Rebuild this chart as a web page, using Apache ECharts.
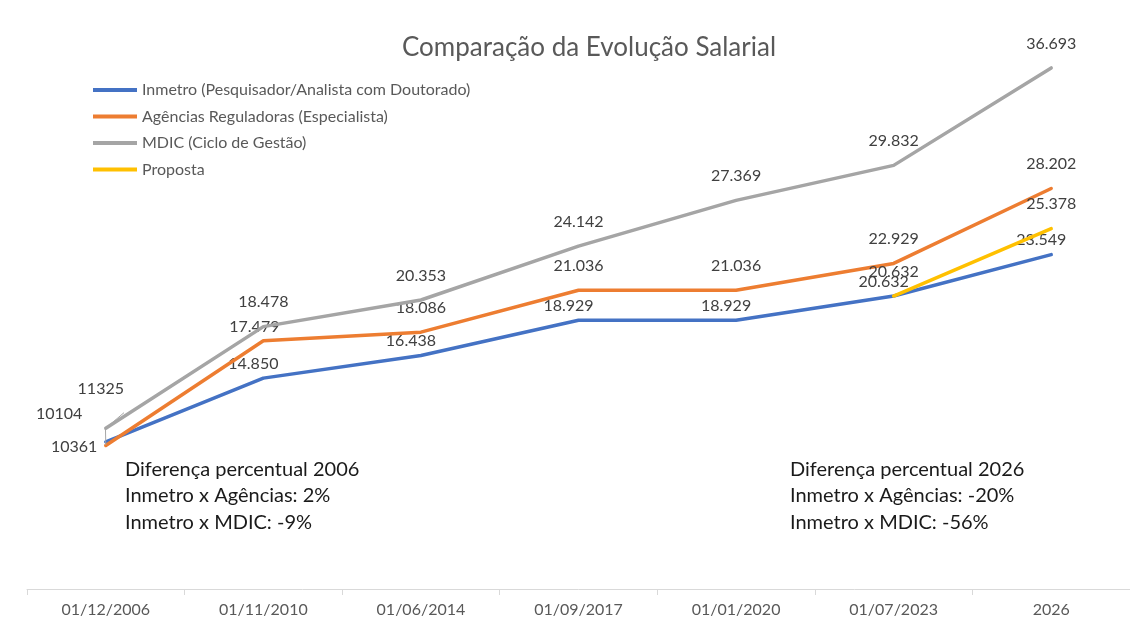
<!DOCTYPE html>
<html>
<head>
<meta charset="utf-8">
<title>Comparação da Evolução Salarial</title>
<script src="https://cdn.jsdelivr.net/npm/echarts@6/dist/echarts.min.js"></script>
<style>
  html, body { margin: 0; padding: 0; background: #fff; }
  #chart { width: 1130px; height: 621px; }
</style>
</head>
<body>
<div id="chart"></div>
<script>
// categorias do eixo x
const datas = ['01/12/2006', '01/11/2010', '01/06/2014', '01/09/2017', '01/01/2020', '01/07/2023', '2026'];

// séries salariais
const inmetro = [10361, 14850, 16438, 18929, 18929, 20632, 23549];
const agencias = [10104, 17479, 18086, 21036, 21036, 22929, 28202];
const mdic = [11325, 18478, 20353, 24142, 27369, 29832, 36693];
const proposta = [null, null, null, null, null, 20632, 25378];

const nomes = [
  'Inmetro (Pesquisador/Analista com Doutorado)',
  'Agências Reguladoras (Especialista)',
  'MDIC (Ciclo de Gestão)',
  'Proposta'
];
const cores = ['#4472C4', '#ED7D31', '#A5A5A5', '#FFC000'];

const fonte = 'Lato, "Open Sans", sans-serif';

// formato dos rótulos: o primeiro ponto vem sem separador, igual ao Excel
function rotulo(p) {
  if (p.value == null) return '';
  if (p.dataIndex === 0) return String(p.value);
  return String(p.value).replace(/\B(?=(\d{3})+(?!\d))/g, '.');
}

// deslocamento dos rótulos (estilo), por série
const deslocBase = {
  inmetro: [-10, -1],
  outros: [0, -11]
};

const guia = { show: true, lineStyle: { color: '#A6A6A6', width: 1 } };

function pontos(valores, desloc, especiais) {
  return valores.map((v, i) => {
    const item = { value: v, label: { offset: desloc } };
    if (especiais && especiais[i]) {
      Object.assign(item.label, especiais[i].label || {});
      if (especiais[i].labelLine) item.labelLine = especiais[i].labelLine;
    }
    return item;
  });
}

function serie(nome, cor, dados, z) {
  return {
    name: nome,
    type: 'line',
    data: dados,
    z: z,
    symbol: 'circle',
    symbolSize: 1,
    showSymbol: true,
    itemStyle: { color: cor },
    lineStyle: { color: cor, width: 3.5, cap: 'round', join: 'round' },
    label: {
      show: true,
      position: 'top',
      distance: 5,
      formatter: rotulo,
      color: '#404040',
      fontSize: 16,
      fontFamily: fonte
    },
    labelLine: { show: false },
    emphasis: { disabled: true },
    animation: false
  };
}

const chart = echarts.init(document.getElementById('chart'));

chart.setOption({
  backgroundColor: '#fff',
  title: {
    text: 'Comparação da Evolução Salarial',
    left: 397,
    top: 30,
    textStyle: { fontFamily: fonte, fontSize: 26, fontWeight: 'normal', color: '#595959' }
  },
  legend: {
    orient: 'vertical',
    left: 88,
    top: 77,
    itemWidth: 44,
    itemHeight: 4,
    itemGap: 10.5,
    icon: 'rect',
    data: nomes,
    textStyle: { fontFamily: fonte, fontSize: 16, color: '#595959', lineHeight: 16 }
  },
  grid: { left: 27, width: 1118, top: 21, bottom: 32 },
  xAxis: {
    type: 'category',
    data: datas,
    boundaryGap: true,
    axisLine: { lineStyle: { color: '#D9D9D9', width: 1 } },
    axisTick: { show: true, length: 6, lineStyle: { color: '#D9D9D9' } },
    axisLabel: { color: '#595959', fontSize: 16, fontFamily: fonte, margin: 13 }
  },
  yAxis: {
    type: 'value',
    min: 0,
    max: 40000,
    show: false
  },
  graphic: [
    {
      type: 'text',
      left: 125,
      top: 456,
      style: {
        text: 'Diferença percentual 2006\nInmetro x Agências: 2%\nInmetro x MDIC: -9%',
        fontFamily: fonte,
        fontSize: 20,
        lineHeight: 26.5,
        fill: '#1a1a1a'
      }
    },
    {
      type: 'text',
      left: 790,
      top: 456,
      style: {
        text: 'Diferença percentual 2026\nInmetro x Agências: -20%\nInmetro x MDIC: -56%',
        fontFamily: fonte,
        fontSize: 20,
        lineHeight: 26.5,
        fill: '#1a1a1a'
      }
    }
  ],
  series: [
    serie(nomes[0], cores[0],
      pontos(inmetro, deslocBase.inmetro, { 0: { label: { position: 'left', offset: [-3, 5] } } }), 2),
    serie(nomes[1], cores[1],
      pontos(agencias, deslocBase.outros, {
        0: { label: { position: 'left', offset: [-18, -32] }, labelLine: guia },
        1: { label: { offset: [-9, 0] } }
      }), 3),
    serie(nomes[2], cores[2],
      pontos(mdic, deslocBase.outros, { 0: { label: { offset: [-5, -26] }, labelLine: guia } }), 4),
    serie(nomes[3], cores[3],
      pontos(proposta, deslocBase.outros), 5)
  ]
});
</script>
</body>
</html>
